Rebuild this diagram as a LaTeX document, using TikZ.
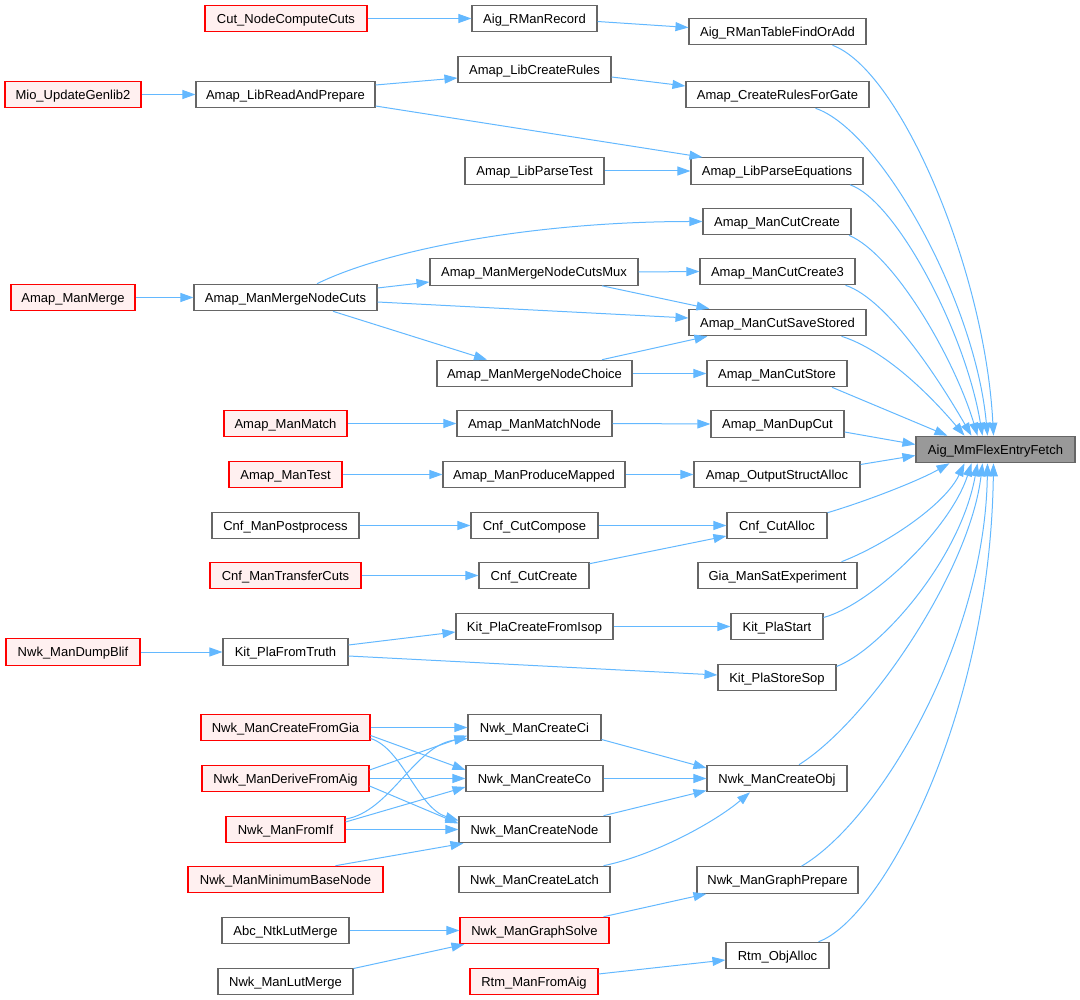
\documentclass[tikz,border=0pt]{standalone}
\usepackage{fontspec}
\setmainfont{Liberation Sans}
\usetikzlibrary{arrows.meta,calc}
\definecolor{edgeblue}{HTML}{63B8FF}
\definecolor{boxgray}{HTML}{666666}
\definecolor{redfill}{HTML}{FFF0F0}
\definecolor{targetfill}{HTML}{999999}
\tikzset{
  fn/.style={draw=boxgray, line width=1.1pt, fill=white, minimum height=26.5pt, inner sep=0pt, text height=9.4pt, text depth=0pt, font=\fontsize{13}{15}\selectfont},
  fnred/.style={fn, draw=red, fill=redfill},
  fntarget/.style={fn, fill=targetfill},
  call/.style={draw=edgeblue, line width=1pt, -{Triangle[length=13pt,width=9pt]}}
}
\begin{document}
\begin{tikzpicture}[x=1pt,y=-1pt]
\useasboundingbox (0,0) rectangle (1080,1000);
% column 0
\node[fnred, minimum width=136pt] (mio) at (73,94.5) {Mio\_UpdateGenlib2};
\node[fnred, minimum width=124pt] (mmerge) at (73,297.5) {Amap\_ManMerge};
\node[fnred, minimum width=134pt] (dump) at (73,652) {Nwk\_ManDumpBlif};
% column 1
\node[fnred, minimum width=162pt] (cut) at (286,18.5) {Cut\_NodeComputeCuts};
\node[fn, minimum width=179pt] (libread) at (285.5,94.5) {Amap\_LibReadAndPrepare};
\node[fn, minimum width=183pt] (mergecuts) at (285.5,297.5) {Amap\_ManMergeNodeCuts};
\node[fnred, minimum width=123pt] (match) at (285.5,423.5) {Amap\_ManMatch};
\node[fnred, minimum width=113pt] (mtest) at (285.5,474.5) {Amap\_ManTest};
\node[fn, minimum width=147pt] (post) at (285.5,525.5) {Cnf\_ManPostprocess};
\node[fnred, minimum width=151pt] (transfer) at (285.5,575.5) {Cnf\_ManTransferCuts};
\node[fn, minimum width=125pt] (truth) at (285.5,652) {Kit\_PlaFromTruth};
\node[fnred, minimum width=169pt] (fromgia) at (285.5,727.5) {Nwk\_ManCreateFromGia};
\node[fnred, minimum width=167pt] (derive) at (285.5,778.5) {Nwk\_ManDeriveFromAig};
\node[fnred, minimum width=119pt] (fromif) at (285.5,829.5) {Nwk\_ManFromIf};
\node[fnred, minimum width=195pt] (minbase) at (285.5,879.5) {Nwk\_ManMinimumBaseNode};
\node[fn, minimum width=127pt] (abclut) at (285.5,930.5) {Abc\_NtkLutMerge};
\node[fn, minimum width=135pt] (nwklut) at (285.5,981.5) {Nwk\_ManLutMerge};
% column 2
\node[fn, minimum width=125pt] (record) at (534.5,18.5) {Aig\_RManRecord};
\node[fn, minimum width=153pt] (createrules) at (534.5,69.5) {Amap\_LibCreateRules};
\node[fn, minimum width=139pt] (parsetest) at (534.5,171) {Amap\_LibParseTest};
\node[fn, minimum width=208pt] (mux) at (534,272) {Amap\_ManMergeNodeCutsMux};
\node[fn, minimum width=195pt] (choice) at (534.5,373.5) {Amap\_ManMergeNodeChoice};
\node[fn, minimum width=155pt] (matchnode) at (534.5,423.5) {Amap\_ManMatchNode};
\node[fn, minimum width=182pt] (produce) at (534,474.5) {Amap\_ManProduceMapped};
\node[fn, minimum width=127pt] (compose) at (534.5,525.5) {Cnf\_CutCompose};
\node[fn, minimum width=110pt] (cnfcreate) at (534,575.5) {Cnf\_CutCreate};
\node[fn, minimum width=157pt] (isop) at (534.5,626.5) {Kit\_PlaCreateFromIsop};
\node[fn, minimum width=133pt] (ci) at (534.5,727.5) {Nwk\_ManCreateCi};
\node[fn, minimum width=137pt] (co) at (534.5,778.5) {Nwk\_ManCreateCo};
\node[fn, minimum width=151pt] (cnode) at (534.5,829.5) {Nwk\_ManCreateNode};
\node[fn, minimum width=151pt] (latch) at (534.5,879.5) {Nwk\_ManCreateLatch};
\node[fnred, minimum width=149pt] (solve) at (534.5,930.5) {Nwk\_ManGraphSolve};
\node[fnred, minimum width=128pt] (rtmfrom) at (534,981.5) {Rtm\_ManFromAig};
% column 3
\node[fn, minimum width=177pt] (table) at (777.5,31.5) {Aig\_RManTableFindOrAdd};
\node[fn, minimum width=183pt] (gate) at (777.5,94.5) {Amap\_CreateRulesForGate};
\node[fn, minimum width=172pt] (eqs) at (777,171) {Amap\_LibParseEquations};
\node[fn, minimum width=148pt] (cutcreate) at (777,221.5) {Amap\_ManCutCreate};
\node[fn, minimum width=155pt] (cutcreate3) at (777.5,271.5) {Amap\_ManCutCreate3};
\node[fn, minimum width=177pt] (savestored) at (777.5,322.5) {Amap\_ManCutSaveStored};
\node[fn, minimum width=140pt] (cutstore) at (777,373.5) {Amap\_ManCutStore};
\node[fn, minimum width=133pt] (dupcut) at (777.5,424) {Amap\_ManDupCut};
\node[fn, minimum width=166pt] (outstruct) at (777,474.5) {Amap\_OutputStructAlloc};
\node[fn, minimum width=100pt] (cnfalloc) at (777,525.5) {Cnf\_CutAlloc};
\node[fn, minimum width=159pt] (sat) at (777.5,575.5) {Gia\_ManSatExperiment};
\node[fn, minimum width=92pt] (plastart) at (777,626.5) {Kit\_PlaStart};
\node[fn, minimum width=118pt] (storesop) at (777,677.5) {Kit\_PlaStoreSop};
\node[fn, minimum width=140pt] (createobj) at (777,778.5) {Nwk\_ManCreateObj};
\node[fn, minimum width=161pt] (prepare) at (777.5,880) {Nwk\_ManGraphPrepare};
\node[fn, minimum width=103pt] (rtmalloc) at (777.5,955.5) {Rtm\_ObjAlloc};
% target
\node[fntarget, minimum width=159pt] (target) at (995.5,449.5) {Aig\_MmFlexEntryFetch};

% edges, left part
\draw[call] (cut.east) -- (record.west);
\draw[call] ($(record.east)+(0,3)$) -- ($(table.west)+(0,-4)$);
\draw[call] (mio.east) -- (libread.west);
\draw[call] ($(libread.east)+(0,-9.5)$) -- ($(createrules.west)+(0,8.5)$);
\draw[call] ($(createrules.east)+(0,7.5)$) -- ($(gate.west)+(0,-8.5)$);
\draw[call] ($(libread.east)+(0,11.5)$) -- ($(eqs.north west)+(12,0)$);
\draw[call] (parsetest.east) -- (eqs.west);
\draw[call] ($(mergecuts.north)+(31.5,0)$) .. controls (390,248) and (540,221.5) .. (cutcreate.west);
\draw[call] (mmerge.east) -- (mergecuts.west);
\draw[call] ($(mergecuts.east)+(0,-9.5)$) -- ($(mux.west)+(0,10)$);
\draw[call] (mux.east) -- (cutcreate3.west);
\draw[call] ($(mux.south)+(68,0)$) -- ($(savestored.north west)+(21,0)$);
\draw[call] ($(mergecuts.east)+(0,4.5)$) -- ($(savestored.west)+(0,-4.5)$);
\draw[call] ($(mergecuts.south)+(47.5,0)$) -- ($(choice.north)+(-47.5,0)$);
\draw[call] ($(choice.north)+(67.5,0)$) -- ($(savestored.south west)+(19,0)$);
\draw[call] (choice.east) -- (cutstore.west);
\draw[call] (match.east) -- (matchnode.west);
\draw[call] (matchnode.east) -- (dupcut.west);
\draw[call] (mtest.east) -- (produce.west);
\draw[call] (produce.east) -- (outstruct.west);
\draw[call] (post.east) -- (compose.west);
\draw[call] (compose.east) -- (cnfalloc.west);
\draw[call] (transfer.east) -- (cnfcreate.west);
\draw[call] ($(cnfcreate.north east)+(0,2)$) -- ($(cnfalloc.west)+(0,10.5)$);
\draw[call] (dump.east) -- (truth.west);
\draw[call] ($(truth.east)+(0,-7)$) -- ($(isop.west)+(0,5.5)$);
\draw[call] (isop.east) -- (plastart.west);
\draw[call] ($(truth.east)+(0,4)$) -- ($(storesop.west)+(0,-2.5)$);
% Nwk crossing block
\draw[call] (fromgia.east) -- (ci.west);
\draw[call] ($(fromgia.east)+(0,8)$) -- ($(co.west)+(0,-8.5)$);
\draw[call] ($(fromgia.east)+(0,11)$) .. controls (402,748) and (418,808) .. ($(cnode.west)+(0,-9)$);
\draw[call] ($(derive.east)+(0,-8.5)$) -- ($(ci.west)+(0,8)$);
\draw[call] (derive.east) -- (co.west);
\draw[call] ($(derive.east)+(0,7.5)$) -- ($(cnode.west)+(0,-6)$);
\draw[call] ($(fromif.east)+(0,-10.5)$) .. controls (390,812) and (415,745) .. ($(ci.west)+(0,11)$);
\draw[call] ($(fromif.east)+(0,-7.5)$) -- ($(co.west)+(0,8.5)$);
\draw[call] (fromif.east) -- (cnode.west);
\draw[call] ($(minbase.north)+(50,0)$) -- ($(cnode.south west)+(5,0)$);
\draw[call] ($(ci.east)+(0,12)$) -- ($(createobj.west)+(0,-10.5)$);
\draw[call] (co.east) -- (createobj.west);
\draw[call] ($(cnode.north east)+(-7,0)$) -- ($(createobj.west)+(0,12)$);
\draw[call] ($(latch.north east)+(-7,0)$) .. controls (655,855) and (715,822) .. ($(createobj.south)+(-27,0)$);
\draw[call] (abclut.east) -- (solve.west);
\draw[call] ($(nwklut.east)+(0,-13)$) -- ($(solve.south west)+(5,0)$);
\draw[call] ($(solve.north east)+(-6,0)$) -- ($(prepare.south west)+(10,0)$);
\draw[call] ($(rtmfrom.east)+(0,-7.5)$) -- ($(rtmalloc.west)+(0,4.5)$);
% fan-in to target
\draw[call] ($(table.south)+(55,0)$) .. controls (900,70) and (985,270) .. ($(target.north)+(-2,0)$);
\draw[call] ($(gate.south)+(38,0)$) .. controls (880,130) and (975,300) .. ($(target.north)+(-8,0)$);
\draw[call] ($(eqs.south)+(73,0)$) .. controls (895,200) and (965,330) .. ($(target.north)+(-13,0)$);
\draw[call] ($(cutcreate.south)+(72,0)$) .. controls (895,255) and (955,360) .. ($(target.north)+(-18,0)$);
\draw[call] ($(cutcreate3.south)+(68,0)$) .. controls (890,300) and (945,390) .. ($(target.north)+(-24,0)$);
\draw[call] ($(savestored.south)+(64,0)$) .. controls (885,350) and (930,395) .. ($(target.north)+(-31,0)$);
\draw[call] ($(cutstore.south)+(55,0)$) -- ($(target.north west)+(32,0)$);
\draw[call] ($(dupcut.east)+(0,8)$) -- ($(target.west)+(0,-5)$);
\draw[call] ($(outstruct.east)+(0,-10)$) -- ($(target.west)+(0,6)$);
\draw[call] ($(cnfalloc.north east)+(0,1)$) .. controls (870,500) and (920,480) .. ($(target.south west)+(34,0)$);
\draw[call] ($(sat.north)+(64,0)$) .. controls (885,545) and (945,505) .. ($(target.south)+(-31,0)$);
\draw[call] ($(plastart.east)+(0,-9)$) .. controls (870,605) and (950,530) .. ($(target.south)+(-24,0)$);
\draw[call] ($(storesop.east)+(0,-11)$) .. controls (880,650) and (960,560) .. ($(target.south)+(-18,0)$);
\draw[call] ($(createobj.north)+(22,0)$) .. controls (870,720) and (970,570) .. ($(target.south)+(-13,0)$);
\draw[call] ($(prepare.north)+(24,0)$) .. controls (880,820) and (985,640) .. ($(target.south)+(-8,0)$);
\draw[call] ($(rtmalloc.north)+(41,0)$) .. controls (880,920) and (990,720) .. ($(target.south)+(-2,0)$);
\end{tikzpicture}
\end{document}
